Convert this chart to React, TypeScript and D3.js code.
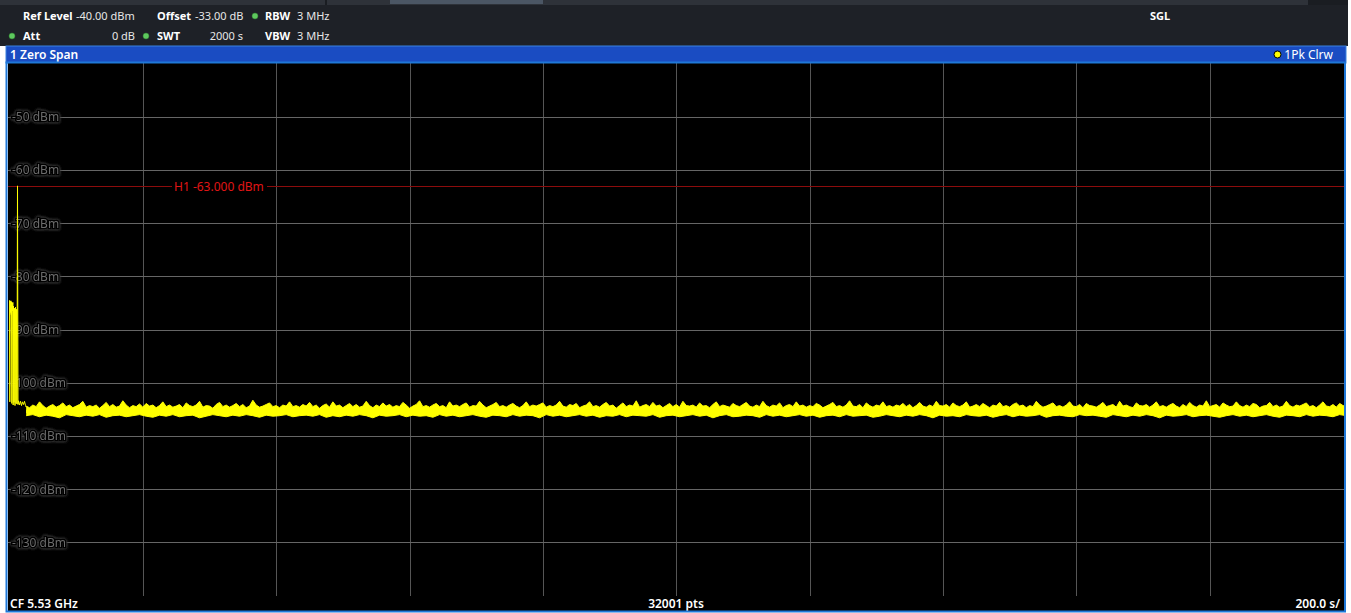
import React from 'react';
import * as d3 from 'd3';

const W = 1351;
const H = 613;

// axis definitions
const timeDomain = [0, 2000]; // s (10 div x 200 s/)
const levelDomain = [-40, -140]; // dBm
const levelTicks = [-50, -60, -70, -80, -90, -100, -110, -120, -130];
const timeGridTicks = [200, 400, 600, 800, 1000, 1200, 1400, 1600, 1800];
const lineLevelH1 = -63;

// header parameters
const headerRow1 = [
  { label: 'Ref Level', value: '-40.00 dBm' },
  { label: 'Offset', value: '-33.00 dB' },
  { label: 'RBW', value: '3 MHz' },
];
const headerRow2 = [
  { label: 'Att', value: '0 dB' },
  { label: 'SWT', value: '2000 s' },
  { label: 'VBW', value: '3 MHz' },
];
const bottomLabels = ['CF 5.53 GHz', '32001 pts', '200.0 s/'];

// early part of the trace (start burst, spike, plateau)
const earlyTime = [0, 0.5, 1, 1.5, 2, 2.5, 3, 3.5, 4, 4.5, 5, 5.5, 6, 6.75, 7.5, 8.25, 9, 9.75, 10.5, 11.25, 12, 12.75, 13.5, 15, 16.5, 18, 19.5, 21, 22.5, 24, 25];
const earlyLevel = [-84.5, -103.6, -84.7, -86.8, -84.6, -87.2, -84.8, -103.9, -85.0, -86.5, -84.9, -104.2, -85.6, -103.7, -86.0, -104.3, -85.8, -103.9, -86.2, -104.0, -63.0, -104.1, -103.4, -104.2, -103.5, -104.3, -103.6, -104.1, -103.5, -104.3, -104.6];

// noise floor: upper envelope (every 5 s from 25 s)
const noiseHighStart = 25;
const noiseHighStep = 5;
const noiseHigh = [
  -104.4,-104.7,-104.2,-104.5,-103.6,-104.3,-104.8,-104.4,-104.1,-104.6,-104.3,-103.8,-104.5,-104.2,-104.7,-104.4,-104.1,-103.5,-104.6,-104.3,
  -104.5,-104.2,-104.8,-104.3,-103.7,-104.5,-104.1,-104.6,-104.4,-103.4,-104.2,-104.7,-104.3,-104.5,-104.0,-104.6,-103.9,-104.4,-104.2,-104.7,
  -104.3,-103.6,-104.5,-104.2,-104.6,-104.4,-104.1,-104.7,-103.8,-104.3,-104.5,-104.2,-103.5,-104.6,-104.3,-104.4,-104.8,-104.1,-103.7,-104.5,
  -104.2,-104.6,-104.3,-103.9,-104.5,-104.1,-104.7,-104.4,-103.3,-104.2,-104.6,-104.4,-104.1,-103.8,-104.5,-104.3,-104.7,-104.2,-104.4,-103.6,
  -104.5,-104.3,-104.6,-104.1,-104.4,-103.7,-104.5,-104.2,-104.8,-104.3,-104.0,-104.6,-103.6,-104.4,-104.2,-104.7,-104.3,-103.9,-104.5,-104.1,
  -104.6,-104.4,-103.5,-104.3,-104.7,-104.2,-104.5,-103.8,-104.4,-104.1,-104.6,-104.3,-104.5,-103.7,-104.2,-104.8,-104.4,-104.1,-103.4,-104.5,
  -104.3,-104.6,-104.2,-103.9,-104.5,-104.3,-104.7,-103.6,-104.4,-104.2,-104.5,-104.1,-103.8,-104.6,-104.3,-104.4,-103.5,-104.2,-104.7,-104.4,
  -104.1,-103.7,-104.5,-104.3,-104.6,-104.2,-103.9,-104.4,-104.7,-104.3,-103.6,-104.5,-104.2,-104.4,-104.1,-103.8,-104.6,-104.3,-104.5,-104.2,
  -103.5,-104.4,-104.6,-104.1,-104.3,-103.9,-104.7,-104.4,-104.2,-103.6,-104.5,-104.3,-104.6,-104.1,-103.7,-104.4,-104.2,-104.8,-104.3,-103.8,
  -104.5,-104.2,-104.4,-103.4,-104.6,-104.3,-104.1,-104.5,-103.7,-104.4,-104.2,-104.7,-104.3,-103.9,-104.5,-104.1,-104.6,-103.5,-104.3,-104.4,
  -104.2,-104.6,-103.8,-104.4,-104.3,-104.7,-104.1,-103.6,-104.5,-104.2,-104.4,-104.6,-103.9,-104.3,-104.5,-104.1,-103.7,-104.4,-104.6,-104.2,
  -104.5,-103.5,-104.3,-104.6,-104.2,-104.4,-103.8,-104.7,-104.3,-104.1,-104.5,-103.6,-104.4,-104.2,-104.6,-104.3,-104.5,-103.9,-104.2,-104.7,
  -104.4,-104.1,-103.7,-104.5,-104.3,-104.6,-104.2,-103.4,-104.4,-104.5,-104.1,-104.7,-103.8,-104.3,-104.6,-104.2,-104.4,-103.6,-104.5,-104.3,
  -104.6,-104.2,-104.4,-103.9,-104.5,-104.1,-104.7,-104.3,-103.7,-104.4,-104.6,-104.2,-104.5,-103.5,-104.3,-104.4,-104.1,-104.6,-103.8,-104.3,
  -104.5,-104.2,-103.6,-104.6,-104.4,-104.1,-104.5,-103.9,-104.3,-104.7,-104.2,-104.4,-103.7,-104.5,-104.3,-104.6,-104.1,-103.8,-104.4,-104.2,
  -104.7,-104.3,-104.5,-103.5,-104.2,-104.6,-104.4,-104.1,-103.8,-104.5,-104.3,-104.6,-104.2,-103.6,-104.4,-104.5,-104.1,-104.7,-103.9,-104.3,
  -104.4,-104.6,-104.2,-103.7,-104.5,-104.3,-104.1,-104.6,-103.5,-104.4,-104.2,-104.5,-104.7,-103.8,-104.3,-104.4,-104.1,-104.6,-104.2,-103.6,
  -104.5,-104.3,-104.6,-104.2,-103.9,-104.4,-104.7,-104.1,-104.5,-103.7,-104.3,-104.6,-104.2,-104.4,-103.4,-104.5,-104.3,-104.1,-104.6,-103.8,
  -104.2,-104.5,-104.4,-103.6,-104.3,-104.6,-104.2,-104.5,-103.9,-104.1,-104.7,-104.4,-104.3,-103.7,-104.5,-104.2,-104.6,-104.4,-103.5,-104.3,
  -104.6,-104.2,-104.4,-104.1,-103.8,-104.5,-104.3,-104.7,-104.2,-103.6,-104.4,-104.5,-104.1,-104.6,-103.9,-104.3,-104.5,
];

// noise floor: lower envelope (every 10 s from 25 s)
const noiseLowStart = 25;
const noiseLowStep = 10;
const noiseLow = [
  -106.2,-106.0,-106.4,-106.1,-106.3,-106.6,-106.0,-106.2,-106.4,-106.1,-106.3,-106.0,-106.5,-106.2,-106.1,-106.4,-106.2,-106.0,-106.3,-106.5,
  -106.1,-106.3,-106.0,-106.4,-106.2,-106.1,-106.6,-106.3,-106.0,-106.2,-106.4,-106.1,-106.3,-106.0,-106.2,-106.5,-106.1,-106.3,-106.2,-106.0,
  -106.4,-106.2,-106.1,-106.3,-106.0,-106.5,-106.2,-106.4,-106.1,-106.3,-106.0,-106.2,-106.6,-106.1,-106.3,-106.2,-106.0,-106.4,-106.1,-106.3,
  -106.2,-106.5,-106.0,-106.3,-106.1,-106.4,-106.2,-106.0,-106.3,-106.5,-106.1,-106.2,-106.4,-106.0,-106.3,-106.1,-106.2,-106.6,-106.0,-106.3,
  -106.1,-106.4,-106.2,-106.0,-106.3,-106.1,-106.5,-106.2,-106.3,-106.0,-106.4,-106.1,-106.2,-106.3,-106.0,-106.5,-106.2,-106.1,-106.4,-106.2,
  -106.0,-106.3,-106.1,-106.6,-106.2,-106.0,-106.4,-106.3,-106.1,-106.2,-106.5,-106.0,-106.3,-106.1,-106.4,-106.2,-106.0,-106.3,-106.1,-106.5,
  -106.2,-106.1,-106.4,-106.0,-106.3,-106.2,-106.1,-106.5,-106.3,-106.0,-106.2,-106.4,-106.1,-106.3,-106.0,-106.2,-106.6,-106.1,-106.3,-106.2,
  -106.4,-106.0,-106.2,-106.3,-106.1,-106.5,-106.2,-106.0,-106.4,-106.1,-106.3,-106.2,-106.0,-106.5,-106.2,-106.1,-106.3,-106.4,-106.0,-106.2,
  -106.1,-106.3,-106.5,-106.0,-106.2,-106.4,-106.1,-106.3,-106.0,-106.2,-106.6,-106.1,-106.3,-106.2,-106.0,-106.4,-106.2,-106.1,-106.3,-106.5,
  -106.2,-106.0,-106.3,-106.1,-106.4,-106.2,-106.0,-106.3,-106.5,-106.1,-106.2,-106.4,-106.0,-106.3,-106.1,-106.2,-106.4,-106.0,-106.2,
];

const FONT = "'Noto Sans', 'Open Sans', 'DejaVu Sans', sans-serif";
const YELLOW = '#ffff00';

function GreenDot({ cx, cy }: { cx: number; cy: number }) {
  return <circle cx={cx} cy={cy} r={3} fill="#5ec85e" stroke="#2f7a2f" strokeWidth={0.5} />;
}

export default function App() {
  const x = d3.scaleLinear().domain(timeDomain).range([9.5, 1343]);
  const y = d3.scaleLinear().domain(levelDomain).range([63.5, 595.5]);

  const plotLeft = 8;
  const plotRight = 1344;
  const plotTop = 63;
  const plotBottom = 596;

  const earlyPts = earlyTime.map((t, i) => [t, earlyLevel[i]] as [number, number]);
  const earlyLine = d3.line<[number, number]>().x((d) => x(d[0])).y((d) => y(d[1]))(earlyPts) || '';

  const highPts = noiseHigh.map((v, i) => [noiseHighStart + i * noiseHighStep, v] as [number, number]);
  const lowPts = noiseLow.map((v, i) => [noiseLowStart + i * noiseLowStep, v] as [number, number]);

  const highArea = d3
    .area<[number, number]>()
    .x((d) => x(d[0]))
    .y0(y(-105.7))
    .y1((d) => y(d[1]))(highPts) || '';
  const lowArea = d3
    .area<[number, number]>()
    .x((d) => x(d[0]))
    .y0(y(-105.1))
    .y1((d) => y(d[1]))(lowPts) || '';
  const highLine = d3.line<[number, number]>().x((d) => x(d[0])).y((d) => y(d[1]))(highPts) || '';
  const lowLine = d3.line<[number, number]>().x((d) => x(d[0])).y((d) => y(d[1]))(lowPts) || '';

  const yH1 = Math.round(y(lineLevelH1)) + 0.5;

  return (
    <svg
      width={W}
      height={H}
      style={{ position: 'absolute', left: 0, top: 0, background: '#ffffff' }}
      fontFamily={FONT}
    >
      <defs>
        <clipPath id="plotClip">
          <rect x={plotLeft} y={plotTop} width={plotRight - plotLeft} height={plotBottom - plotTop} />
        </clipPath>
        <filter id="glow" x="-20%" y="-50%" width="140%" height="200%">
          <feGaussianBlur in="SourceAlpha" stdDeviation="1.6" result="b" />
          <feFlood floodColor="#3a3a3a" result="c" />
          <feComposite in="c" in2="b" operator="in" result="g" />
          <feMerge>
            <feMergeNode in="g" />
            <feMergeNode in="g" />
            <feMergeNode in="SourceGraphic" />
          </feMerge>
        </filter>
      </defs>

      {/* header */}
      <rect x={0} y={0} width={1348} height={46} fill="#1e2127" />
      <rect x={0} y={0} width={1348} height={5} fill="#2e3239" />
      <rect x={390} y={0} width={153} height={4} fill="#4b5664" />
      <rect x={325} y={0} width={2} height={5} fill="#1a1d22" />
      <rect x={1308} y={0} width={40} height={5} fill="#1a1d22" />

      <g fontSize={11} fill="#ffffff">
        <text x={23} y={20} fontWeight="bold">{headerRow1[0].label}</text>
        <text x={76} y={20} fill="#e6e6e6">{headerRow1[0].value}</text>
        <text x={157} y={20} fontWeight="bold">{headerRow1[1].label}</text>
        <text x={195} y={20} fill="#e6e6e6">{headerRow1[1].value}</text>
        <GreenDot cx={255} cy={16} />
        <text x={265} y={20} fontWeight="bold">{headerRow1[2].label}</text>
        <text x={297} y={20} fill="#e6e6e6">{headerRow1[2].value}</text>

        <GreenDot cx={12} cy={36} />
        <text x={23} y={40} fontWeight="bold">{headerRow2[0].label}</text>
        <text x={135} y={40} fill="#e6e6e6" textAnchor="end">{headerRow2[0].value}</text>
        <GreenDot cx={146} cy={36} />
        <text x={157} y={40} fontWeight="bold">{headerRow2[1].label}</text>
        <text x={243} y={40} fill="#e6e6e6" textAnchor="end">{headerRow2[1].value}</text>
        <text x={265} y={40} fontWeight="bold">{headerRow2[2].label}</text>
        <text x={297} y={40} fill="#e6e6e6">{headerRow2[2].value}</text>

        <text x={1150} y={20} fontWeight="bold">SGL</text>
      </g>

      {/* window title bar */}
      <rect x={6} y={46} width={1340} height={17} fill="#1a4cc2" stroke="#3b82e0" strokeWidth={1} />
      <text x={10} y={59} fontSize={12} fontWeight="600" fill="#ffffff">1 Zero Span</text>
      <circle cx={1277.5} cy={54.5} r={3.5} fill="#ffff00" stroke="#000" strokeWidth={1} />
      <text x={1333} y={59} fontSize={12} fill="#ffffff" textAnchor="end">1Pk Clrw</text>

      {/* plot background */}
      <rect x={plotLeft} y={plotTop} width={plotRight - plotLeft} height={plotBottom - plotTop} fill="#000000" />

      {/* grid */}
      <g stroke="#555555" strokeWidth={1}>
        {timeGridTicks.map((t) => (
          <line key={t} x1={Math.round(x(t)) + 0.5} x2={Math.round(x(t)) + 0.5} y1={plotTop} y2={plotBottom} />
        ))}
        {levelTicks.map((v) => (
          <line key={v} x1={plotLeft} x2={plotRight} y1={Math.round(y(v)) + 0.5} y2={Math.round(y(v)) + 0.5} stroke="#666666" />
        ))}
      </g>

      {/* level labels */}
      <g fontSize={12} fill="#6c6c6c" filter="url(#glow)">
        {levelTicks.map((v) => (
          <text
            key={v}
            x={12}
            y={y(v) + 4.5}
            stroke="#000"
            strokeWidth={3}
            paintOrder="stroke"
          >{`${v} dBm`}</text>
        ))}
      </g>

      {/* H1 display line */}
      <line x1={plotLeft} x2={plotRight} y1={yH1} y2={yH1} stroke="#8c0c0c" strokeWidth={1} />
      <rect x={172} y={yH1 - 7} width={95} height={14} fill="#000" />
      <text x={174} y={yH1 + 4.5} fontSize={12} fill="#e01515">{`H1 ${lineLevelH1.toFixed(3)} dBm`}</text>

      {/* trace */}
      <g clipPath="url(#plotClip)">
        <path d={earlyLine} fill="none" stroke={YELLOW} strokeWidth={1} />
        <path d={highArea} fill={YELLOW} />
        <path d={lowArea} fill={YELLOW} />
        <path d={highLine} fill="none" stroke={YELLOW} strokeWidth={1} />
        <path d={lowLine} fill="none" stroke={YELLOW} strokeWidth={1} />
      </g>

      {/* bottom status bar */}
      <rect x={plotLeft} y={596} width={plotRight - plotLeft} height={15} fill="#000" />
      <g fontSize={12} fontWeight="600" fill="#ffffff">
        <text x={10} y={608}>{bottomLabels[0]}</text>
        <text x={676} y={608} textAnchor="middle">{bottomLabels[1]}</text>
        <text x={1340} y={608} textAnchor="end">{bottomLabels[2]}</text>
      </g>

      {/* panel frame */}
      <rect x={6.5} y={62.5} width={1338.5} height={549} fill="none" stroke="#1f78d8" strokeWidth={2} />
    </svg>
  );
}
